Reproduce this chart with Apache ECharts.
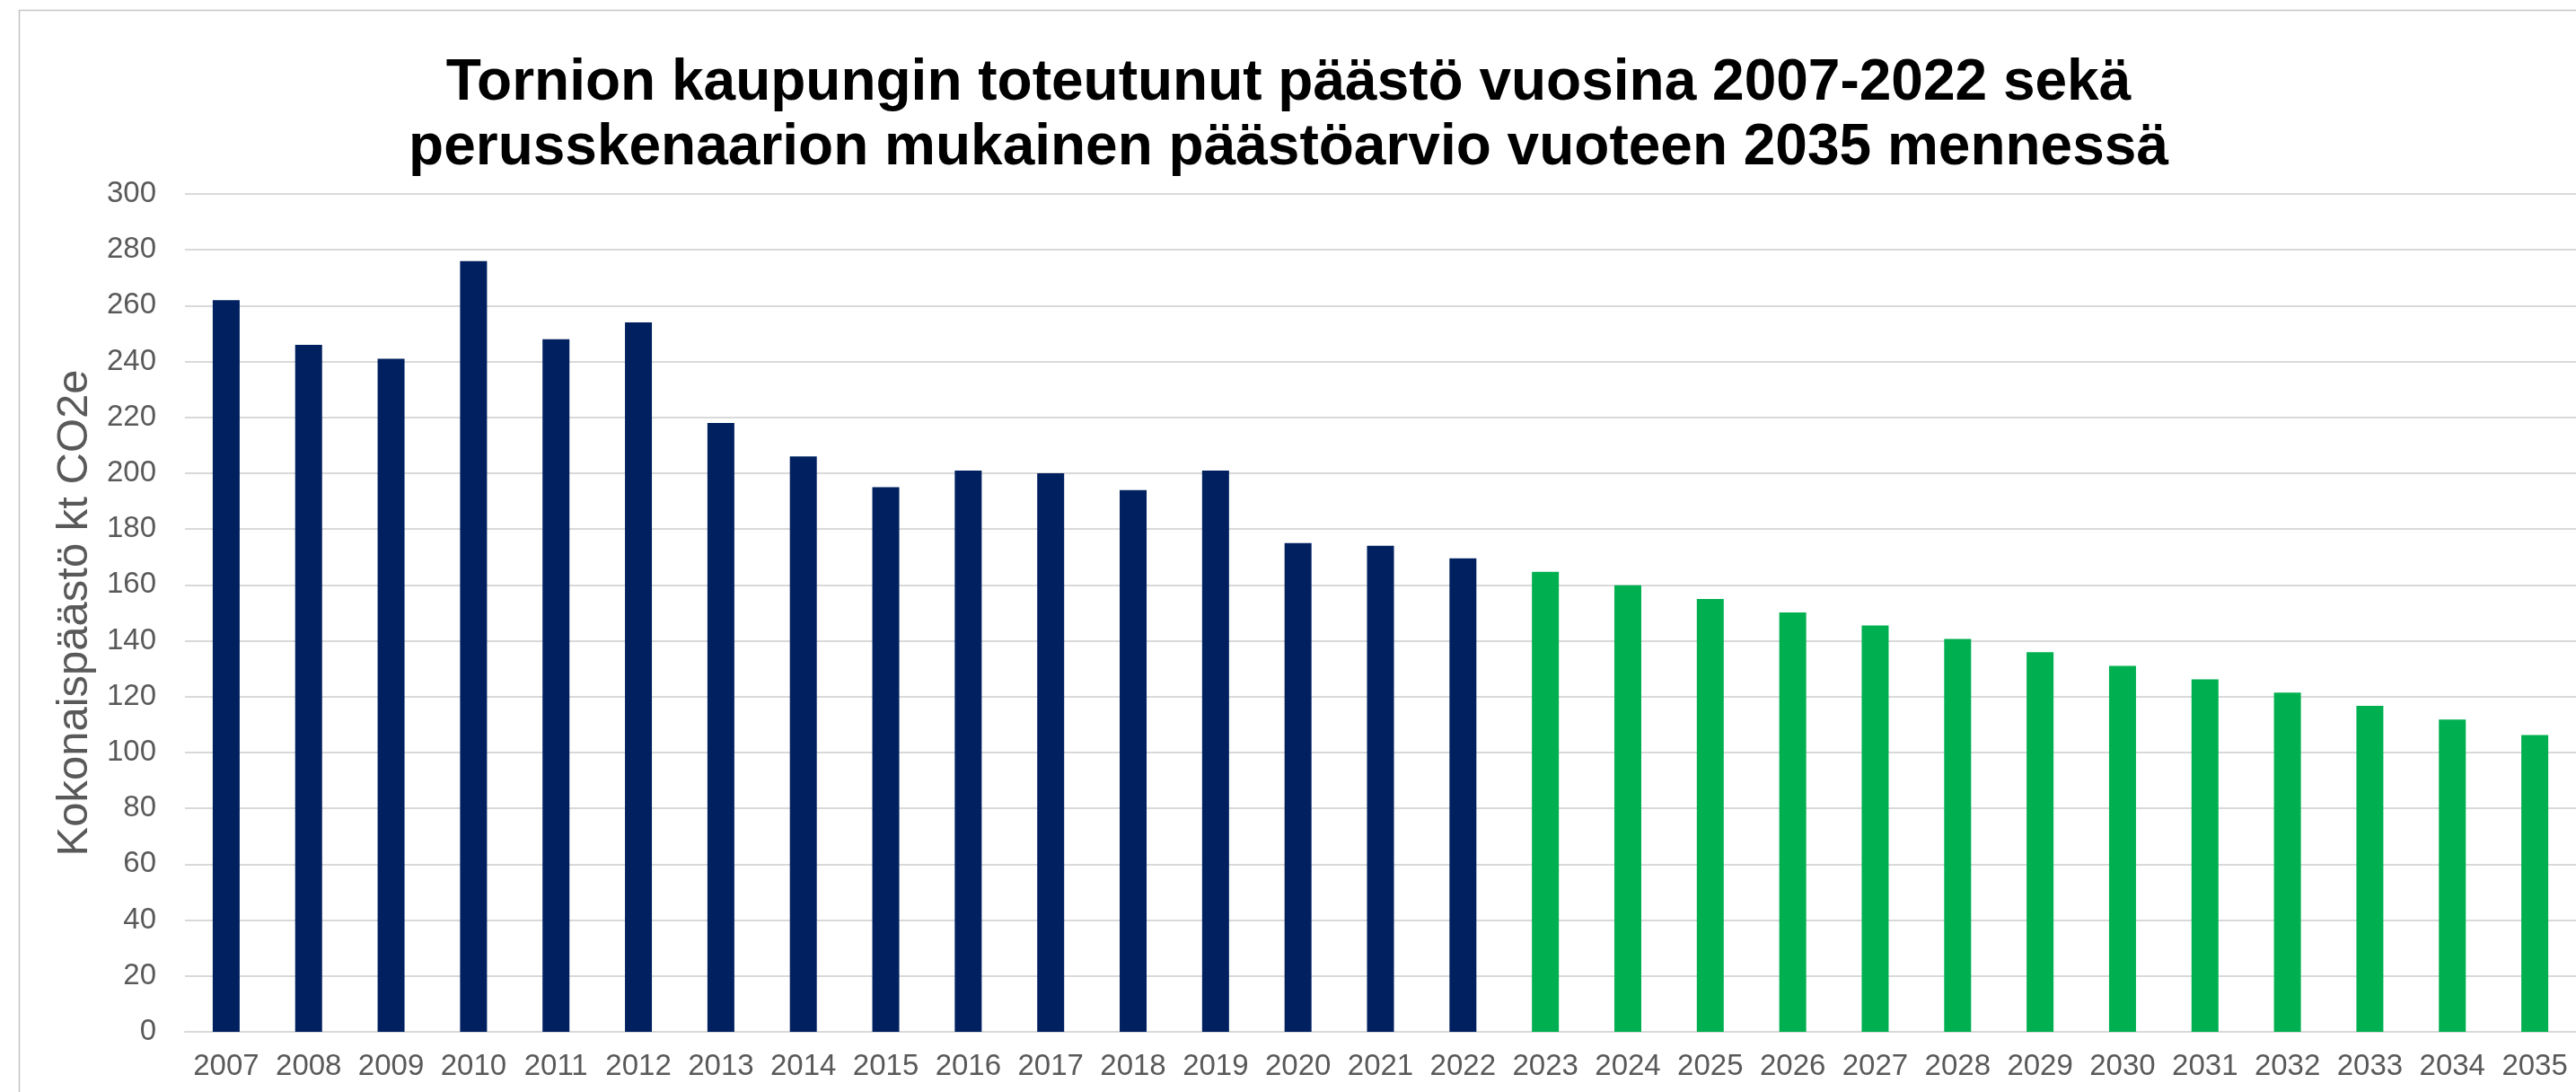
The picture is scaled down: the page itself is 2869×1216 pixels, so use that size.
<!DOCTYPE html>
<html>
<head>
<meta charset="utf-8">
<title>Tornion päästöt</title>
<script src="https://cdn.jsdelivr.net/npm/echarts@6/dist/echarts.min.js"></script>
<style>
  html, body { margin: 0; padding: 0; background: #fff; }
  #chart { width: 2869px; height: 1216px; }
</style>
</head>
<body>
<div id="chart"></div>
<script>
// vuodet
var years = ['2007', '2008', '2009', '2010', '2011', '2012', '2013', '2014', '2015', '2016',
  '2017', '2018', '2019', '2020', '2021', '2022', '2023', '2024', '2025', '2026',
  '2027', '2028', '2029', '2030', '2031', '2032', '2033', '2034', '2035'];

// toteutunut 2007-2022, kt CO2e
var actual = [262, 246, 241, 276, 248, 254, 218, 206, 195, 201,
  200, 194, 201, 175, 174, 169.5, '-', '-', '-', '-',
  '-', '-', '-', '-', '-', '-', '-', '-', '-'];

// perusskenaario 2023-2035
var forecast = ['-', '-', '-', '-', '-', '-', '-', '-', '-', '-',
  '-', '-', '-', '-', '-', '-', 164.7, 159.9, 155.0, 150.2,
  145.5, 140.7, 135.9, 131.0, 126.2, 121.5, 116.7, 111.8, 106.3];

var font = "'Liberation Sans', Arial, sans-serif";

var chart = echarts.init(document.getElementById('chart'));

var option = {
  animation: false,
  backgroundColor: '#fff',
  title: {
    text: 'Tornion kaupungin toteutunut päästö vuosina 2007-2022 sekä\nperusskenaarion mukainen päästöarvio vuoteen 2035 mennessä',
    left: 1430,
    top: 52,
    textAlign: 'center',
    textStyle: {
      fontFamily: font,
      fontSize: 64,
      fontWeight: 'bold',
      color: '#000',
      lineHeight: 72
    }
  },
  graphic: [
    {
      type: 'rect',
      shape: { x: 21.5, y: 11.5, width: 3000, height: 1400 },
      style: { fill: 'none', stroke: '#c4c4c4', lineWidth: 1.5 },
      silent: true
    }
  ],
  grid: {
    left: 206,
    right: -2,
    top: 216,
    bottom: 67
  },
  xAxis: {
    type: 'category',
    data: years,
    axisLine: { lineStyle: { color: '#d9d9d9', width: 2 } },
    axisTick: { show: false },
    axisLabel: {
      fontFamily: font,
      fontSize: 33,
      color: '#595959',
      margin: 22,
      interval: 0
    }
  },
  yAxis: {
    type: 'value',
    min: 0,
    max: 300,
    interval: 20,
    name: 'Kokonaispäästö kt CO2e',
    nameLocation: 'middle',
    nameGap: 95,
    nameTextStyle: {
      fontFamily: font,
      fontSize: 49,
      color: '#595959'
    },
    axisLine: { show: false },
    axisTick: { show: false },
    axisLabel: {
      fontFamily: font,
      fontSize: 33,
      color: '#595959',
      margin: 32
    },
    splitLine: { lineStyle: { color: '#d9d9d9', width: 2 } }
  },
  series: [
    {
      name: 'Toteutunut',
      type: 'bar',
      data: actual,
      barWidth: 30,
      barGap: '-100%',
      itemStyle: { color: '#002060' }
    },
    {
      name: 'Perusskenaario',
      type: 'bar',
      data: forecast,
      barWidth: 30,
      barGap: '-100%',
      itemStyle: { color: '#00b050' }
    }
  ]
};

chart.setOption(option);
</script>
</body>
</html>
